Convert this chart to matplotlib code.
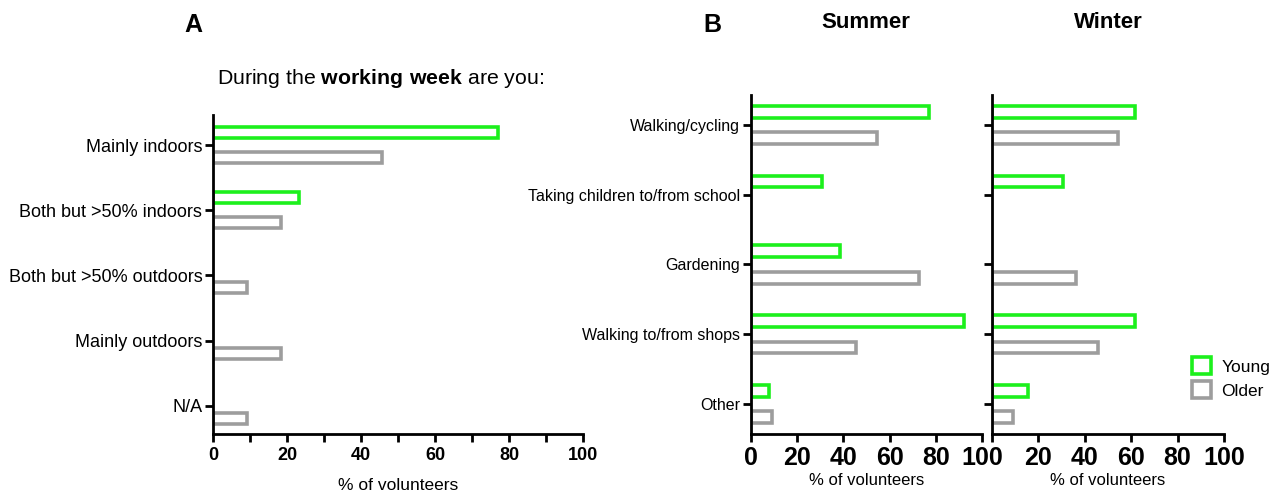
import numpy as np
import matplotlib
matplotlib.use('Agg')
import matplotlib.pyplot as plt
from matplotlib.patches import Patch

plt.rcParams['font.family'] = ['Liberation Sans', 'DejaVu Sans']
plt.rcParams['mathtext.fontset'] = 'custom'
plt.rcParams['mathtext.rm'] = 'Liberation Sans'
plt.rcParams['mathtext.bf'] = 'Liberation Sans:bold'

# panel A data
aCategory_week = ['Mainly indoors', 'Both but >50% indoors', 'Both but >50% outdoors',
                  'Mainly outdoors', 'N/A']
aYoung_week = [76.9, 23.1, 0, 0, 0]
aOlder_week = [45.5, 18.2, 9.1, 18.2, 9.1]

# panel B data
aCategory_activity = ['Walking/cycling', 'Taking children to/from school', 'Gardening',
                      'Walking to/from shops', 'Other']
aYoung_summer = [76.9, 30.8, 38.5, 92.3, 7.7]
aOlder_summer = [54.5, 0, 72.7, 45.5, 9.1]
aYoung_winter = [61.5, 30.8, 0, 61.5, 15.4]
aOlder_winter = [54.5, 0, 36.4, 45.5, 9.1]

sColor_young = '#1cf01c'
sColor_older = '#9d9d9d'
dLw_bar = 2.6
dLw_axis = 2.0
dOffset = 0.19
dHeight = 0.17


def plot_pair(ax, aYoung, aOlder):
    y = np.arange(len(aYoung))
    bars1 = ax.barh(y - dOffset, aYoung, height=dHeight, facecolor='white',
                    edgecolor=sColor_young, linewidth=dLw_bar)
    bars2 = ax.barh(y + dOffset, aOlder, height=dHeight, facecolor='white',
                    edgecolor=sColor_older, linewidth=dLw_bar)
    for b, v in zip(list(bars1) + list(bars2), list(aYoung) + list(aOlder)):
        if v == 0:
            b.set_visible(False)
    for s in ['top', 'right']:
        ax.spines[s].set_visible(False)
    for s in ['left', 'bottom']:
        ax.spines[s].set_linewidth(dLw_axis)
    ax.set_xlim(0, 100)
    ax.set_yticks(y)
    ax.tick_params(axis='both', which='both', length=6, width=dLw_axis, color='black')


fig = plt.figure(figsize=(12.79, 4.94), dpi=100)

# panel A
ax_a = fig.add_axes([0.1669, 0.1215, 0.2889, 0.6457])
plot_pair(ax_a, aYoung_week, aOlder_week)
ax_a.set_ylim(4.43, -0.46)
ax_a.set_yticklabels(aCategory_week, fontsize=13)
ax_a.set_xticks(np.arange(0, 101, 20))
ax_a.set_xticks(np.arange(10, 100, 20), minor=True)
ax_a.set_xticklabels([str(v) for v in range(0, 101, 20)], fontsize=13, fontweight='bold')
ax_a.set_xlabel('% of volunteers', fontsize=12.5, labelpad=10)
ax_a.tick_params(axis='y', pad=2)

# panel B summer
ax_s = fig.add_axes([0.5872, 0.1215, 0.1806, 0.6862])
plot_pair(ax_s, aYoung_summer, aOlder_summer)
ax_s.set_ylim(4.43, -0.43)
ax_s.set_yticklabels(aCategory_activity, fontsize=11.5)
ax_s.set_xticks(np.arange(0, 101, 20))
ax_s.set_xticklabels([str(v) for v in range(0, 101, 20)], fontsize=18, fontweight='bold')
ax_s.set_xlabel('% of volunteers', fontsize=12, labelpad=2)
ax_s.tick_params(axis='y', pad=2)
ax_s.tick_params(axis='x', pad=3)

# panel B winter
ax_w = fig.add_axes([0.7756, 0.1215, 0.1814, 0.6862])
plot_pair(ax_w, aYoung_winter, aOlder_winter)
ax_w.set_ylim(4.43, -0.43)
ax_w.set_yticklabels([])
ax_w.set_xticks(np.arange(0, 101, 20))
ax_w.set_xticklabels([''] + [str(v) for v in range(20, 101, 20)], fontsize=18, fontweight='bold')
ax_w.set_xlabel('% of volunteers', fontsize=12, labelpad=2)
ax_w.tick_params(axis='x', pad=3)

# titles and panel letters
fig.text(193 / 1279, 1 - 25 / 494, 'A', fontsize=18, fontweight='bold', ha='center', va='center')
fig.text(712 / 1279, 1 - 25 / 494, 'B', fontsize=18, fontweight='bold', ha='center', va='center')
fig.text(866 / 1279, 1 - 22 / 494, 'Summer', fontsize=16, fontweight='bold', ha='center', va='center')
fig.text(1108 / 1279, 1 - 22 / 494, 'Winter', fontsize=16, fontweight='bold', ha='center', va='center')
fig.text(217 / 1279, 1 - 78 / 494, 'During the $\\mathbf{working\\ week}$ are you:', fontsize=15.3,
         ha='left', va='center')

# legend
aHandle = [Patch(facecolor='white', edgecolor=sColor_young, linewidth=dLw_bar),
           Patch(facecolor='white', edgecolor=sColor_older, linewidth=dLw_bar)]
fig.legend(aHandle, ['Young', 'Older'], loc='center left', frameon=False, fontsize=12.5,
           bbox_to_anchor=(1176 / 1279, 1 - 378 / 494), handlelength=1.1, handleheight=1.1,
           handletextpad=0.6, labelspacing=0.4)

fig.savefig('out.png', dpi=100)
plt.close(fig)
